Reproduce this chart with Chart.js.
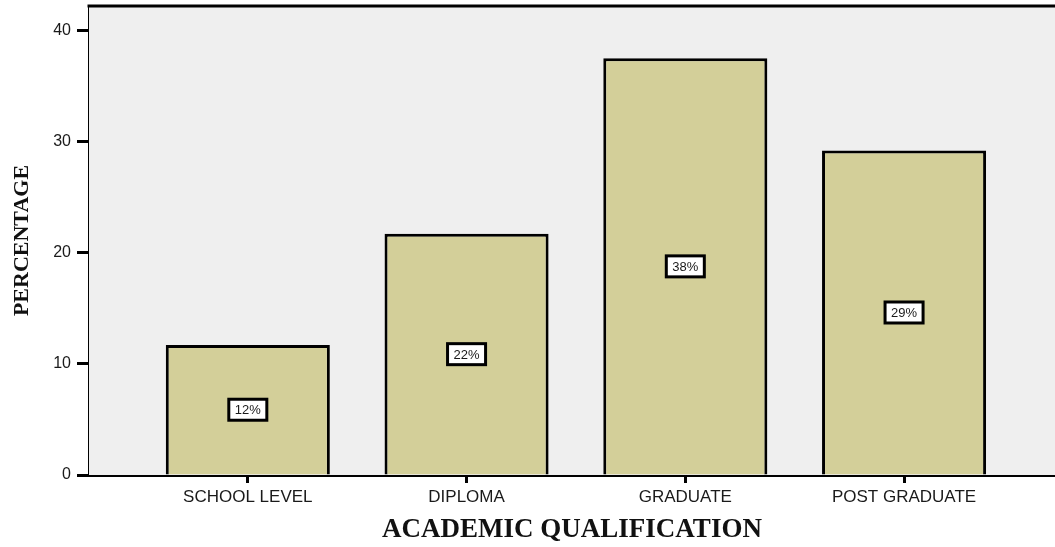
<!DOCTYPE html>
<html>
<head>
<meta charset="utf-8">
<script src="https://cdn.jsdelivr.net/npm/chart.js@4"></script>
<style>
  html, body { margin: 0; padding: 0; background: #ffffff; }
  #wrap { width: 1055px; height: 547px; }
</style>
</head>
<body>
<div id="wrap"><canvas id="qualChart" width="1055" height="547"></canvas></div>
<script>
// Categories and percentages
const categories = ['SCHOOL LEVEL', 'DIPLOMA', 'GRADUATE', 'POST GRADUATE'];
const percentages = [11.7, 21.7, 37.5, 29.2];
const yTicks = [0, 10, 20, 30, 40];

// x positions for the bars on a linear axis (1..n)
const xPositions = categories.map((c, i) => i + 1);

// Grey plot background + top frame line
const plotFrame = {
    id: 'plotFrame',
    beforeDatasetsDraw(chart) {
        const { ctx, chartArea: a } = chart;
        ctx.save();
        ctx.fillStyle = '#efefef';
        ctx.fillRect(a.left, a.top, a.right - a.left, a.bottom - a.top);
        ctx.strokeStyle = '#000';
        ctx.lineWidth = 3;
        ctx.beginPath();
        ctx.moveTo(a.left - 1.5, a.top);
        ctx.lineTo(a.right, a.top);
        ctx.stroke();
        ctx.restore();
    }
};

// Boxed percentage labels in the middle of each bar
const barLabels = {
    id: 'barLabels',
    afterDatasetsDraw(chart) {
        const { ctx } = chart;
        const meta = chart.getDatasetMeta(0);
        ctx.save();
        ctx.font = '13px "Liberation Sans", Arial, sans-serif';
        ctx.textAlign = 'center';
        ctx.textBaseline = 'middle';
        meta.data.forEach((bar, i) => {
            const text = Math.round(percentages[i]) + '%';
            const cy = (bar.y + bar.base) / 2;
            const w = ctx.measureText(text).width + 12;
            const h = 21;
            ctx.fillStyle = '#ffffff';
            ctx.fillRect(bar.x - w / 2, cy - h / 2, w, h);
            ctx.strokeStyle = '#000';
            ctx.lineWidth = 3;
            ctx.strokeRect(bar.x - w / 2, cy - h / 2, w, h);
            ctx.fillStyle = '#1a1a1a';
            ctx.fillText(text, bar.x, cy + 1);
        });
        ctx.restore();
    }
};

new Chart(document.getElementById('qualChart'), {
    type: 'bar',
    data: {
        datasets: [{
            data: xPositions.map((x, i) => ({ x: x, y: percentages[i] })),
            backgroundColor: '#d3cf99',
            borderColor: '#000000',
            borderWidth: 3,
            categoryPercentage: 1,
            barPercentage: 0.75
        }]
    },
    options: {
        responsive: false,
        animation: false,
        layout: { padding: { top: 6, right: 0, left: 0, bottom: 0 } },
        plugins: {
            legend: { display: false },
            tooltip: { enabled: false }
        },
        scales: {
            x: {
                type: 'linear',
                offset: false,
                min: 0.274,
                max: 4.69,
                afterBuildTicks: (scale) => { scale.ticks = xPositions.map(v => ({ value: v })); },
                afterFit: (scale) => {
                    scale.height = 72;
                    scale.paddingLeft = 0;
                    scale.paddingRight = 0;
                },
                grid: {
                    offset: false,
                    drawOnChartArea: false,
                    tickLength: 8,
                    tickWidth: 3,
                    tickColor: '#000'
                },
                border: { display: true, color: '#000', width: 3 },
                ticks: {
                    autoSkip: false,
                    maxRotation: 0,
                    padding: 4,
                    color: '#1a1a1a',
                    font: { family: '"Liberation Sans", Arial, sans-serif', size: 17 },
                    callback: (value) => categories[value - 1]
                },
                title: {
                    display: true,
                    text: 'ACADEMIC QUALIFICATION',
                    color: '#111',
                    font: { family: '"Liberation Serif", "Times New Roman", serif', size: 27, weight: 'bold' },
                    padding: { top: 0, bottom: 1 }
                }
            },
            y: {
                min: 0,
                max: 42.2,
                afterBuildTicks: (scale) => { scale.ticks = yTicks.map(v => ({ value: v })); },
                afterFit: (scale) => {
                    scale.width = 89;
                    scale.paddingTop = 0;
                    scale.paddingBottom = 0;
                },
                grid: {
                    drawOnChartArea: false,
                    tickLength: 12,
                    tickWidth: 3,
                    tickColor: '#000'
                },
                border: { display: true, color: '#000', width: 3 },
                ticks: {
                    padding: 6,
                    color: '#1a1a1a',
                    font: { family: '"Liberation Sans", Arial, sans-serif', size: 16 }
                },
                title: {
                    display: true,
                    text: 'PERCENTAGE',
                    color: '#111',
                    font: { family: '"Liberation Serif", "Times New Roman", serif', size: 22, weight: 'bold' },
                    padding: { top: 9, bottom: 0 }
                }
            }
        }
    },
    plugins: [plotFrame, barLabels]
});
</script>
</body>
</html>
